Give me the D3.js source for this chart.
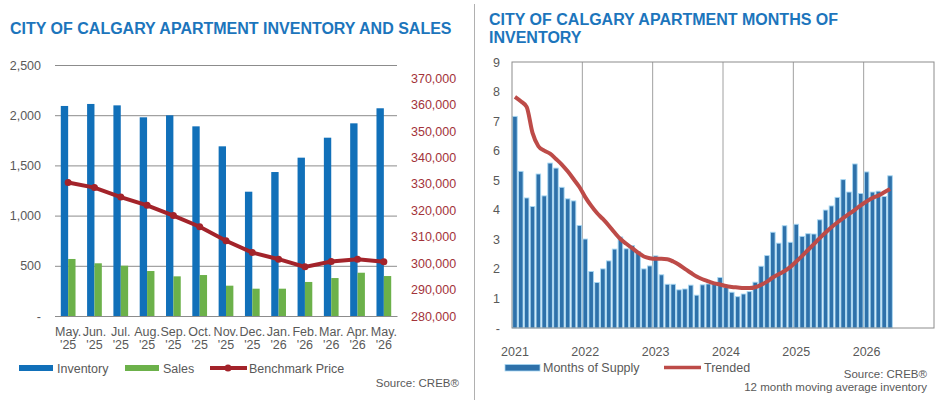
<!DOCTYPE html>
<html>
<head>
<meta charset="utf-8">
<script src="https://cdn.jsdelivr.net/npm/d3@7"></script>
<style>
  body { margin: 0; background: #fff; }
  svg { font-family: "Liberation Sans", Arial, sans-serif; }
</style>
</head>
<body>
<div id="chart"></div>
<script>
// left chart data
const months = ["May. '25", "Jun. '25", "Jul. '25", "Aug. '25", "Sep. '25", "Oct. '25", "Nov. '25",
    "Dec. '25", "Jan. '26", "Feb. '26", "Mar. '26", "Apr. '26", "May. '26"];
const inventory = [2092, 2112, 2098, 1979, 1999, 1889, 1690, 1238, 1434, 1577, 1776, 1919, 2069];
const sales = [568, 525, 501, 448, 395, 408, 302, 272, 272, 339, 378, 431, 398];
const benchmark = [330500, 328600, 325000, 321900, 318000, 313800, 308500, 304000, 301500, 298600, 300600, 301500, 300500];
const leftTicks = [0, 500, 1000, 1500, 2000, 2500];
const priceTicks = [280000, 290000, 300000, 310000, 320000, 330000, 340000, 350000, 360000, 370000];

// right chart data (Jan 2021 .. May 2026)
const years = [2021, 2022, 2023, 2024, 2025, 2026];
const monthsOfSupply = [
    7.16, 5.30, 4.40, 4.11, 5.21, 4.47, 5.58, 5.41, 4.76, 4.37, 4.30, 3.47,
    3.01, 1.91, 1.54, 2.00, 2.27, 2.67, 3.08, 2.68, 2.79, 2.59, 2.00, 2.10,
    2.44, 1.80, 1.48, 1.48, 1.29, 1.32, 1.45, 1.11, 1.46, 1.49, 1.49, 1.71,
    1.38, 1.21, 1.06, 1.15, 1.23, 1.55, 2.09, 2.45, 3.24, 2.87, 3.46, 2.90,
    3.51, 3.10, 3.19, 3.18, 3.66, 3.99, 4.13, 4.42, 5.02, 4.60, 5.55, 4.55,
    5.28, 4.60, 4.63, 4.45, 5.15
];
const trended = [
    7.82, 7.67, 7.48, 6.60, 6.15, 6.00, 5.90, 5.72, 5.53, 5.30, 5.04, 4.77,
    4.43, 4.14, 3.89, 3.69, 3.47, 3.23, 3.01, 2.85, 2.70, 2.55, 2.42, 2.36,
    2.34, 2.34, 2.33, 2.25, 2.14, 2.00, 1.87, 1.74, 1.65, 1.58, 1.51, 1.47,
    1.42, 1.39, 1.37, 1.35, 1.35, 1.38, 1.46, 1.57, 1.71, 1.82, 1.93, 2.07,
    2.25, 2.44, 2.64, 2.84, 3.04, 3.23, 3.41, 3.57, 3.72, 3.86, 4.00, 4.15,
    4.28, 4.40, 4.48, 4.59, 4.70
];
const supplyTicks = [0, 1, 2, 3, 4, 5, 6, 7, 8, 9];

const blue = "#1170b9", green = "#6cb14a", darkRed = "#a3232a";
const titleBlue = "#1c75bc", axisGray = "#595959";

const svg = d3.select("#chart").append("svg")
    .attr("width", 943)
    .attr("height", 400);

// ---------- left chart ----------
const L = { left: 55, right: 397, top: 65, bottom: 316 };

svg.append("text")
    .attr("x", 10).attr("y", 34)
    .attr("fill", titleBlue)
    .style("font-size", "16px").style("font-weight", "bold")
    .text("CITY OF CALGARY APARTMENT INVENTORY AND SALES");

const x0 = d3.scaleBand().domain(months).range([L.left, L.right]).paddingInner(0.44).paddingOuter(0.22);
const x1 = d3.scaleBand().domain(["inv", "sales"]).range([0, x0.bandwidth()]);
const yL = d3.scaleLinear().domain([0, 2500]).range([L.bottom, L.top]);
const yR = d3.scaleLinear().domain([280000, 375000]).range([L.bottom, L.top]);

const gridL = svg.append("g")
    .attr("transform", `translate(${L.left},0)`)
    .call(d3.axisLeft(yL).tickValues(leftTicks).tickSize(-(L.right - L.left))
        .tickFormat(d => d === 0 ? "-" : d3.format(",")(d)));
gridL.select(".domain").remove();
gridL.selectAll("line").attr("stroke", "#8c8c8c").attr("stroke-width", 1);
gridL.selectAll("text").attr("x", -14).attr("fill", axisGray).style("font-size", "12.5px");

svg.append("g").selectAll("rect.inv")
    .data(inventory)
    .enter().append("rect")
    .attr("x", (d, i) => x0(months[i]) + x1("inv"))
    .attr("y", d => yL(d))
    .attr("width", x1.bandwidth())
    .attr("height", d => yL(0) - yL(d))
    .attr("fill", blue);

svg.append("g").selectAll("rect.sales")
    .data(sales)
    .enter().append("rect")
    .attr("x", (d, i) => x0(months[i]) + x1("sales"))
    .attr("y", d => yL(d))
    .attr("width", x1.bandwidth())
    .attr("height", d => yL(0) - yL(d))
    .attr("fill", green);

const cx = (d, i) => x0(months[i]) + x0.bandwidth() / 2;

svg.append("path")
    .datum(benchmark)
    .attr("fill", "none")
    .attr("stroke", darkRed)
    .attr("stroke-width", 4)
    .attr("d", d3.line().x(cx).y(d => yR(d)));

svg.append("g").selectAll("circle")
    .data(benchmark)
    .enter().append("circle")
    .attr("cx", cx)
    .attr("cy", d => yR(d))
    .attr("r", 3.5)
    .attr("fill", darkRed);

const axR = svg.append("g")
    .attr("transform", `translate(${L.right},0)`)
    .call(d3.axisRight(yR).tickValues(priceTicks).tickSize(0).tickFormat(d3.format(",")));
axR.select(".domain").remove();
axR.selectAll("text").attr("x", 14).attr("fill", "#a3333a").style("font-size", "12.5px");

const xAxL = svg.append("g")
    .attr("transform", `translate(0,${L.bottom})`)
    .call(d3.axisBottom(x0).tickSize(0).tickFormat(""));
xAxL.select(".domain").attr("stroke", "#8c8c8c");
xAxL.selectAll(".tick").each(function (d) {
    const parts = d.split(" ");
    const t = d3.select(this).append("text")
        .attr("fill", axisGray)
        .attr("text-anchor", "middle")
        .style("font-size", "12.5px");
    t.append("tspan").attr("x", 0).attr("y", 20).text(parts[0]);
    t.append("tspan").attr("x", 0).attr("y", 33).text(parts[1]);
});

// left legend
const legL = svg.append("g").style("font-size", "12.5px").attr("fill", axisGray);
legL.append("rect").attr("x", 19).attr("y", 365).attr("width", 34).attr("height", 6).attr("fill", blue);
legL.append("text").attr("x", 57).attr("y", 372.5).text("Inventory");
legL.append("rect").attr("x", 125).attr("y", 365).attr("width", 34).attr("height", 6).attr("fill", green);
legL.append("text").attr("x", 163).attr("y", 372.5).text("Sales");
legL.append("line").attr("x1", 210).attr("x2", 247).attr("y1", 368).attr("y2", 368)
    .attr("stroke", darkRed).attr("stroke-width", 4);
legL.append("circle").attr("cx", 228).attr("cy", 368).attr("r", 3.5).attr("fill", darkRed);
legL.append("text").attr("x", 249).attr("y", 372.5).text("Benchmark Price");
svg.append("text").attr("x", 459).attr("y", 387).attr("text-anchor", "end")
    .attr("fill", axisGray).style("font-size", "11.5px").text("Source: CREB®");

// divider
svg.append("line").attr("x1", 474.5).attr("x2", 474.5).attr("y1", 4).attr("y2", 400)
    .attr("stroke", "#b0b0b0").attr("stroke-width", 1);

// ---------- right chart ----------
const R = { left: 512, right: 934, top: 62, bottom: 328 };

const rTitle = svg.append("text")
    .attr("fill", titleBlue)
    .style("font-size", "16px").style("font-weight", "bold");
rTitle.append("tspan").attr("x", 489).attr("y", 25).text("CITY OF CALGARY APARTMENT MONTHS OF");
rTitle.append("tspan").attr("x", 489).attr("y", 43).text("INVENTORY");

const monthKeys = [];
years.forEach(yr => d3.range(12).forEach(m => monthKeys.push(`${yr}-${m + 1}`)));

const xs = d3.scaleBand().domain(monthKeys).range([R.left, R.right]).paddingInner(0.22).paddingOuter(0.11);
const ys = d3.scaleLinear().domain([0, 9]).range([R.bottom, R.top]);
const step = xs.step();
const boundary = k => xs(k) - step * xs.paddingInner() / 2;

svg.append("g").selectAll("line")
    .data(years.slice(1))
    .enter().append("line")
    .attr("x1", d => boundary(`${d}-1`))
    .attr("x2", d => boundary(`${d}-1`))
    .attr("y1", R.top).attr("y2", R.bottom)
    .attr("stroke", "#a0a0a0").attr("stroke-width", 1);

svg.append("g").selectAll("rect")
    .data(monthsOfSupply)
    .enter().append("rect")
    .attr("x", (d, i) => xs(monthKeys[i]))
    .attr("y", d => ys(d))
    .attr("width", xs.bandwidth())
    .attr("height", d => ys(0) - ys(d))
    .attr("fill", "#2e71aa")
    .attr("stroke", "#a9d8f3")
    .attr("stroke-width", 0.9);

svg.append("path")
    .datum(trended)
    .attr("fill", "none")
    .attr("stroke", "#bd4b48")
    .attr("stroke-width", 4)
    .attr("d", d3.line().curve(d3.curveMonotoneX)
        .x((d, i) => xs(monthKeys[i]) + xs.bandwidth() / 2)
        .y(d => ys(d)));

svg.append("rect")
    .attr("x", R.left).attr("y", R.top)
    .attr("width", R.right - R.left).attr("height", R.bottom - R.top)
    .attr("fill", "none").attr("stroke", "#8c8c8c").attr("stroke-width", 1);

const axS = svg.append("g")
    .attr("transform", `translate(${R.left},0)`)
    .call(d3.axisLeft(ys).tickValues(supplyTicks).tickSize(0)
        .tickFormat(d => d === 0 ? "-" : d));
axS.select(".domain").remove();
axS.selectAll("text").attr("x", -12).attr("fill", axisGray).style("font-size", "12.5px");

const axX = svg.append("g")
    .attr("transform", `translate(0,${R.bottom})`)
    .call(d3.axisBottom(xs).tickSize(0)
        .tickValues(years.map(y => `${y}-1`))
        .tickFormat(k => k.split("-")[0]));
axX.select(".domain").remove();
axX.selectAll("text").attr("y", 19).attr("fill", axisGray).style("font-size", "12.5px");

// right legend
const legR = svg.append("g").style("font-size", "12.5px").attr("fill", axisGray);
legR.append("rect").attr("x", 505).attr("y", 364.5).attr("width", 35).attr("height", 6.5)
    .attr("fill", "#2e71aa").attr("stroke", "#a9d8f3").attr("stroke-width", 0.8);
legR.append("text").attr("x", 543).attr("y", 372).text("Months of Supply");
legR.append("line").attr("x1", 664).attr("x2", 701).attr("y1", 367.5).attr("y2", 367.5)
    .attr("stroke", "#bd4b48").attr("stroke-width", 3.5);
legR.append("text").attr("x", 704).attr("y", 372).text("Trended");
svg.append("text").attr("x", 927).attr("y", 378).attr("text-anchor", "end")
    .attr("fill", axisGray).style("font-size", "11.5px").text("Source: CREB®");
svg.append("text").attr("x", 927).attr("y", 391).attr("text-anchor", "end")
    .attr("fill", axisGray).style("font-size", "11.5px").text("12 month moving average inventory");
</script>
</body>
</html>
